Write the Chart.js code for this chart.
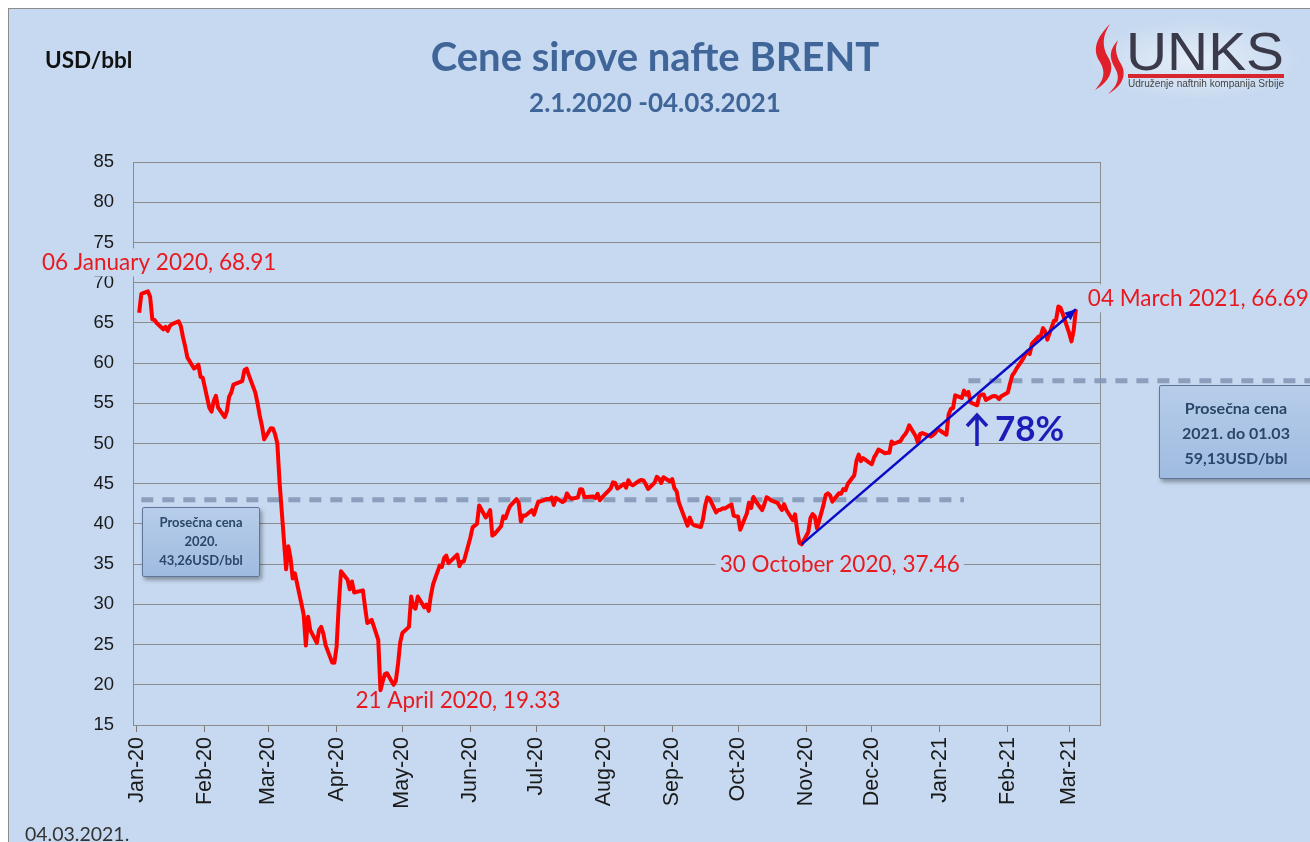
<!DOCTYPE html>
<html>
<head>
<meta charset="UTF-8">
<title>Cene sirove nafte BRENT</title>
<script src="https://cdn.jsdelivr.net/npm/chart.js@4.4.0/dist/chart.umd.min.js"></script>
<style>
    body { margin: 0; width: 1310px; height: 842px; overflow: hidden; position: relative; background: #fff; font-family: Lato, sans-serif; }
    #panel { position: absolute; left: 8px; top: 8px; width: 1302px; height: 834px; background: #c6d9f0; border-left: 1px solid #8c8c8c; border-top: 1px solid #8c8c8c; }
    #chart { position: absolute; left: 0; top: 0; }
    .title { position: absolute; left: 0; width: 1310px; text-align: center; color: #3f6599; font-weight: bold; }
    #unit { position: absolute; left: 45px; top: 46px; font-weight: bold; font-size: 22.5px; color: #111; }
    #stamp { position: absolute; left: 25px; top: 822px; font-size: 19.5px; color: #333; }
    .box { position: absolute; text-align: center; font-weight: bold; color: #2a4669; background: linear-gradient(#b7cdea, #9fbbe0); border: 1px solid #5d7699; box-shadow: 2px 3px 4px rgba(0,0,0,0.35); border-radius: 2px; }
    #pct { position: absolute; left: 995px; top: 406px; color: #1c1cb8; font-weight: bold; font-size: 35px; }
    #arrow { position: absolute; left: 964px; top: 412px; }
    #logo { position: absolute; left: 1086px; top: 20px; }
</style>
</head>
<body>
<div id="panel"></div>
<canvas id="chart" width="1310" height="842"></canvas>
<div class="title" style="top:32px;font-size:40px;">Cene sirove nafte BRENT</div>
<div class="title" style="top:86px;font-size:26px;">2.1.2020 -04.03.2021</div>
<div id="unit">USD/bbl</div>
<div id="stamp">04.03.2021.</div>
<div class="box" style="left:142px;top:507px;width:116px;height:68px;font-size:13px;line-height:19px;">
    <div style="margin-top:5px">Prosečna cena<br>2020.<br>43,26USD/bbl</div>
</div>
<div class="box" style="left:1159px;top:385px;width:158px;height:92px;font-size:16px;line-height:25px;">
    <div style="margin-top:9px;margin-right:6px">Prosečna cena<br>2021. do 01.03<br>59,13USD/bbl</div>
</div>
<svg id="arrow" width="28" height="36">
    <path d="M13,4 L13,34 M3,14 L13,3 L23,14" stroke="#1c1cb8" stroke-width="3.5" fill="none"/>
</svg>
<div id="pct">78%</div>
<svg id="logo" width="215" height="78">
    <defs>
        <radialGradient id="glow"><stop offset="0" stop-color="#fff" stop-opacity="0.55"/><stop offset="1" stop-color="#fff" stop-opacity="0"/></radialGradient>
    </defs>
    <ellipse cx="108" cy="40" rx="110" ry="42" fill="url(#glow)"/>
    <path d="M24,4 C10,18 6,30 14,42 C20,52 18,60 9,70 C25,61 29,48 22,37 C16,27 16,16 24,4 Z" fill="#e0202a"/>
    <path d="M32,20 C23,30 23,38 29,48 C35,58 31,66 22,74 C37,66 41,54 35,44 C29,34 29,27 32,20 Z" fill="#e0202a"/>
    <text x="40" y="50" font-family="Liberation Sans" font-size="53" fill="#3a3a4a" textLength="158" lengthAdjust="spacingAndGlyphs">UNKS</text>
    <rect x="42" y="54" width="156" height="4" fill="#d8262e"/>
    <text x="42" y="67" font-family="Liberation Sans" font-size="10" fill="#444" textLength="156" lengthAdjust="spacingAndGlyphs">Udruženje naftnih kompanija Srbije</text>
</svg>

<script>
    // Brent, USD/bbl
    var dates = [
        '2020-01-02','2020-01-03','2020-01-06','2020-01-07','2020-01-08','2020-01-09','2020-01-10','2020-01-13','2020-01-14','2020-01-15','2020-01-16','2020-01-17','2020-01-20','2020-01-21','2020-01-22','2020-01-23','2020-01-24','2020-01-27','2020-01-28','2020-01-29','2020-01-30','2020-01-31',
        '2020-02-03','2020-02-04','2020-02-05','2020-02-06','2020-02-07','2020-02-10','2020-02-11','2020-02-12','2020-02-13','2020-02-14','2020-02-18','2020-02-19','2020-02-20','2020-02-21','2020-02-24','2020-02-25','2020-02-26','2020-02-27','2020-02-28',
        '2020-03-02','2020-03-03','2020-03-04','2020-03-05','2020-03-06','2020-03-09','2020-03-10','2020-03-11','2020-03-12','2020-03-13','2020-03-16','2020-03-17','2020-03-18','2020-03-19','2020-03-20','2020-03-23','2020-03-24','2020-03-25','2020-03-26','2020-03-27','2020-03-30','2020-03-31',
        '2020-04-01','2020-04-02','2020-04-03','2020-04-06','2020-04-07','2020-04-08','2020-04-09','2020-04-13','2020-04-14','2020-04-15','2020-04-16','2020-04-17','2020-04-20','2020-04-21','2020-04-22','2020-04-23','2020-04-24','2020-04-27','2020-04-28','2020-04-29','2020-04-30',
        '2020-05-01','2020-05-04','2020-05-05','2020-05-06','2020-05-07','2020-05-08','2020-05-11','2020-05-12','2020-05-13','2020-05-14','2020-05-15','2020-05-18','2020-05-19','2020-05-20','2020-05-21','2020-05-22','2020-05-26','2020-05-27','2020-05-28','2020-05-29',
        '2020-06-01','2020-06-02','2020-06-03','2020-06-04','2020-06-05','2020-06-08','2020-06-09','2020-06-10','2020-06-11','2020-06-12','2020-06-15','2020-06-16','2020-06-17','2020-06-18','2020-06-19','2020-06-22','2020-06-23','2020-06-24','2020-06-25','2020-06-26','2020-06-29','2020-06-30',
        '2020-07-01','2020-07-02','2020-07-03','2020-07-06','2020-07-07','2020-07-08','2020-07-09','2020-07-10','2020-07-13','2020-07-14','2020-07-15','2020-07-16','2020-07-17','2020-07-20','2020-07-21','2020-07-22','2020-07-23','2020-07-24','2020-07-27','2020-07-28','2020-07-29','2020-07-30','2020-07-31',
        '2020-08-03','2020-08-04','2020-08-05','2020-08-06','2020-08-07','2020-08-10','2020-08-11','2020-08-12','2020-08-13','2020-08-14','2020-08-17','2020-08-18','2020-08-19','2020-08-20','2020-08-21','2020-08-24','2020-08-25','2020-08-26','2020-08-27','2020-08-28','2020-08-31',
        '2020-09-01','2020-09-02','2020-09-03','2020-09-04','2020-09-08','2020-09-09','2020-09-10','2020-09-11','2020-09-14','2020-09-15','2020-09-16','2020-09-17','2020-09-18','2020-09-21','2020-09-22','2020-09-23','2020-09-24','2020-09-25','2020-09-28','2020-09-29','2020-09-30',
        '2020-10-01','2020-10-02','2020-10-05','2020-10-06','2020-10-07','2020-10-08','2020-10-09','2020-10-12','2020-10-13','2020-10-14','2020-10-15','2020-10-16','2020-10-19','2020-10-20','2020-10-21','2020-10-22','2020-10-23','2020-10-26','2020-10-27','2020-10-28','2020-10-29','2020-10-30',
        '2020-11-02','2020-11-03','2020-11-04','2020-11-05','2020-11-06','2020-11-09','2020-11-10','2020-11-11','2020-11-12','2020-11-13','2020-11-16','2020-11-17','2020-11-18','2020-11-19','2020-11-20','2020-11-23','2020-11-24','2020-11-25','2020-11-26','2020-11-27','2020-11-30',
        '2020-12-01','2020-12-02','2020-12-03','2020-12-04','2020-12-07','2020-12-08','2020-12-09','2020-12-10','2020-12-11','2020-12-14','2020-12-15','2020-12-16','2020-12-17','2020-12-18','2020-12-21','2020-12-22','2020-12-23','2020-12-24','2020-12-28','2020-12-29','2020-12-30','2020-12-31',
        '2021-01-04','2021-01-05','2021-01-06','2021-01-07','2021-01-08','2021-01-11','2021-01-12','2021-01-13','2021-01-14','2021-01-15','2021-01-18','2021-01-19','2021-01-20','2021-01-21','2021-01-22','2021-01-25','2021-01-26','2021-01-27','2021-01-28','2021-01-29',
        '2021-02-01','2021-02-02','2021-02-03','2021-02-04','2021-02-05','2021-02-08','2021-02-09','2021-02-10','2021-02-11','2021-02-12','2021-02-15','2021-02-16','2021-02-17','2021-02-18','2021-02-19','2021-02-22','2021-02-23','2021-02-24','2021-02-25','2021-02-26',
        '2021-03-01','2021-03-02','2021-03-03','2021-03-04'
    ];
    var prices = [
        66.25,68.60,68.91,68.27,65.44,65.37,64.98,64.20,64.49,64.00,64.62,64.85,65.20,64.59,63.21,62.04,60.69,59.32,59.51,59.81,58.29,58.16,
        54.45,53.96,55.28,55.93,54.47,53.27,54.01,55.79,56.34,57.32,57.75,59.12,59.31,58.50,56.30,54.95,53.43,52.18,50.52,
        51.90,51.86,51.13,49.99,45.27,34.36,37.22,35.79,33.22,33.85,30.05,28.73,24.88,28.47,26.80,25.20,26.80,27.20,26.34,24.93,22.76,22.74,
        24.74,29.94,34.11,33.05,31.87,32.84,31.48,31.74,29.60,27.69,27.82,28.08,25.57,19.33,20.37,21.33,21.44,19.99,20.46,22.54,25.27,
        26.44,27.20,30.97,29.72,29.46,30.97,29.63,29.98,29.19,31.13,32.50,34.81,34.65,35.75,36.06,35.13,36.17,34.74,35.29,35.33,
        38.32,39.57,39.79,39.99,42.30,40.80,41.18,41.73,38.55,38.73,39.72,40.96,40.71,41.51,42.19,43.08,42.63,40.31,41.05,41.02,41.71,41.15,
        42.03,42.80,42.80,43.10,43.08,43.29,42.35,43.24,42.72,42.90,43.79,43.37,43.14,43.28,44.32,44.29,43.31,43.34,43.41,43.22,43.75,42.94,43.30,
        44.15,44.43,45.17,45.09,44.40,44.99,44.50,45.43,44.96,44.80,45.37,45.46,45.37,44.90,44.35,45.13,45.86,45.64,45.09,45.81,45.28,
        45.58,44.43,44.07,42.66,39.78,40.79,40.06,39.83,39.61,40.53,42.22,43.30,43.15,41.44,41.72,41.77,41.94,41.92,42.43,41.03,40.95,
        40.93,39.27,41.29,42.65,41.99,43.34,42.85,41.72,42.45,43.32,43.16,42.93,42.62,42.16,41.73,42.46,41.77,40.46,41.20,39.12,37.65,37.46,
        38.97,40.71,41.23,40.93,39.45,42.40,43.61,43.80,43.53,42.78,43.82,43.75,44.34,44.20,44.96,46.06,47.86,48.61,47.80,48.18,47.59,
        47.42,48.25,48.71,49.25,48.79,48.84,48.86,50.25,49.97,50.29,50.76,51.08,51.50,52.26,50.91,50.08,51.20,51.29,50.86,51.09,51.34,51.80,
        51.09,53.60,54.30,54.38,55.99,55.66,56.58,56.06,56.42,55.10,54.75,55.90,56.08,56.10,55.41,55.88,55.91,55.81,55.53,55.88,
        56.35,57.46,58.46,58.84,59.34,60.56,61.09,61.47,61.14,62.43,63.30,63.35,64.34,63.93,62.91,65.24,65.37,67.04,66.88,66.13,
        63.69,62.70,64.07,66.69
    ];

    var monthLabels = ['Jan-20','Feb-20','Mar-20','Apr-20','May-20','Jun-20','Jul-20','Aug-20','Sep-20','Oct-20','Nov-20','Dec-20','Jan-21','Feb-21','Mar-21'];
    var monthStarts = ['2020-01-01','2020-02-01','2020-03-01','2020-04-01','2020-05-01','2020-06-01','2020-07-01','2020-08-01','2020-09-01','2020-10-01','2020-11-01','2020-12-01','2021-01-01','2021-02-01','2021-03-01'];

    // labelled points
    var markDates = ['2020-01-06','2020-04-21','2020-10-30','2021-03-04'];
    var markNames = ['06 January 2020','21 April 2020','30 October 2020','04 March 2021'];

    // trend arrow from the autumn low to the last price
    var trendFrom = '2020-10-30';
    var trendTo = '2021-03-04';

    // average price lines (as drawn in the picture)
    var avg2020Line = 43.0;
    var avg2020Span = ['2020-01-03','2021-01-12'];
    var avg2021Line = 57.8;
    var avg2021Start = '2021-01-14';

    function dayOf(s) {
        var p = s.split('-');
        return (Date.UTC(+p[0], +p[1] - 1, +p[2]) - Date.UTC(2020, 0, 1)) / 86400000;
    }
    function priceAt(s) {
        return prices[dates.indexOf(s)];
    }

    var series = dates.map(function (d, i) { return { x: dayOf(d), y: prices[i] }; });
    var trend = [{ x: dayOf(trendFrom), y: priceAt(trendFrom) }, { x: dayOf(trendTo), y: priceAt(trendTo) }];

    var bg = '#c6d9f0';
    var red = '#e8191f';

    var deco = {
        id: 'deco',
        beforeDatasetsDraw: function (chart) {
            var ctx = chart.ctx, a = chart.chartArea, x = chart.scales.x, y = chart.scales.y;
            ctx.save();
            // frame right side
            ctx.strokeStyle = '#8c8c8c';
            ctx.lineWidth = 1;
            ctx.beginPath();
            ctx.moveTo(a.right + 0.5, a.top);
            ctx.lineTo(a.right + 0.5, a.bottom);
            ctx.stroke();
            // averages
            ctx.strokeStyle = 'rgba(128,148,180,0.85)';
            ctx.lineWidth = 5;
            ctx.setLineDash([12, 9]);
            var yy = y.getPixelForValue(avg2020Line);
            ctx.beginPath();
            ctx.moveTo(x.getPixelForValue(dayOf(avg2020Span[0])), yy);
            ctx.lineTo(x.getPixelForValue(dayOf(avg2020Span[1])), yy);
            ctx.stroke();
            yy = y.getPixelForValue(avg2021Line);
            ctx.beginPath();
            ctx.moveTo(x.getPixelForValue(dayOf(avg2021Start)), yy);
            ctx.lineTo(chart.width, yy);
            ctx.stroke();
            ctx.setLineDash([]);

            // point labels (under the line, over the grid)
            var offs = [[-106, -29], [-25, 11], [-82, 20], [12, -11]];
            ctx.font = '22.5px Lato';
            ctx.textBaseline = 'middle';
            ctx.textAlign = 'left';
            markDates.forEach(function (d, i) {
                var txt = markNames[i] + ', ' + priceAt(d).toFixed(2);
                var px = x.getPixelForValue(dayOf(d)) + offs[i][0];
                var py = y.getPixelForValue(priceAt(d)) + offs[i][1];
                var w = ctx.measureText(txt).width;
                ctx.fillStyle = bg;
                ctx.fillRect(px - 4, py - 14, w + 8, 28);
                ctx.fillStyle = red;
                ctx.fillText(txt, px, py);
            });
            ctx.restore();
        },
        afterDatasetsDraw: function (chart) {
            var ctx = chart.ctx, x = chart.scales.x, y = chart.scales.y;
            ctx.save();
            // arrow head on the trend line
            var x0 = x.getPixelForValue(trend[0].x), y0 = y.getPixelForValue(trend[0].y);
            var x1 = x.getPixelForValue(trend[1].x), y1 = y.getPixelForValue(trend[1].y);
            var ang = Math.atan2(y1 - y0, x1 - x0);
            ctx.fillStyle = '#0a0ac8';
            ctx.beginPath();
            ctx.moveTo(x1, y1);
            ctx.lineTo(x1 - 11 * Math.cos(ang) + 5 * Math.sin(ang), y1 - 11 * Math.sin(ang) - 5 * Math.cos(ang));
            ctx.lineTo(x1 - 11 * Math.cos(ang) - 5 * Math.sin(ang), y1 - 11 * Math.sin(ang) + 5 * Math.cos(ang));
            ctx.closePath();
            ctx.fill();
            ctx.restore();
        }
    };

    var ctx = document.getElementById('chart').getContext('2d');
    var chart = new Chart(ctx, {
        type: 'line',
        data: {
            datasets: [{
                label: 'Trend',
                data: trend,
                borderColor: '#0a0ac8',
                borderWidth: 2.5,
                pointRadius: 0,
                order: 0
            }, {
                label: 'Brent',
                data: series,
                borderColor: '#ff0000',
                borderWidth: 4,
                borderJoinStyle: 'round',
                pointRadius: 0,
                tension: 0,
                order: 1
            }]
        },
        options: {
            responsive: false,
            animation: false,
            events: [],
            layout: { padding: { left: 0, top: 162, right: 210, bottom: 0 } },
            plugins: { legend: { display: false }, tooltip: { enabled: false } },
            scales: {
                x: {
                    type: 'linear',
                    min: -1.8,
                    max: 439,
                    afterBuildTicks: function (s) {
                        s.ticks = monthStarts.map(function (m) { return { value: dayOf(m) }; });
                    },
                    afterFit: function (s) { s.height = 117; },
                    ticks: {
                        autoSkip: false,
                        minRotation: 90,
                        maxRotation: 90,
                        padding: 5,
                        color: '#1a1a1a',
                        font: { family: 'Liberation Sans', size: 21.5 },
                        callback: function (v, i) { return monthLabels[i]; }
                    },
                    grid: { drawOnChartArea: false, drawTicks: true, tickLength: 7, color: '#7a7a7a' },
                    border: { color: '#8c8c8c' }
                },
                y: {
                    min: 15,
                    max: 85,
                    afterFit: function (s) { s.width = 133; },
                    ticks: {
                        stepSize: 5,
                        padding: 19,
                        color: '#1a1a1a',
                        font: { family: 'Liberation Sans', size: 18.5 }
                    },
                    grid: { color: '#8c8c8c', drawTicks: false },
                    border: { color: '#8c8c8c' }
                }
            }
        },
        plugins: [deco]
    });
</script>
</body>
</html>
